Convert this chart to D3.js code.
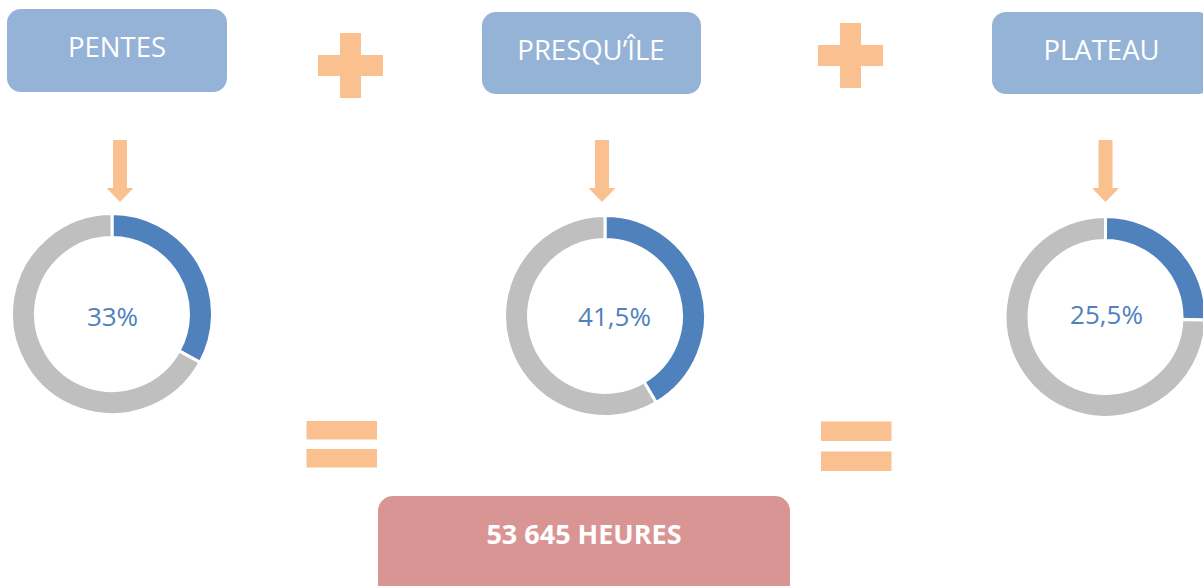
<!DOCTYPE html>
<html>
<head>
<meta charset="utf-8">
<script src="https://cdn.jsdelivr.net/npm/d3@7/dist/d3.min.js"></script>
<style>
  html, body { margin: 0; padding: 0; background: #ffffff; }
  svg { display: block; }
</style>
</head>
<body>
<svg id="chart" width="1203" height="586"></svg>
<script>
// ---- data ----
const regions = ["PENTES", "PRESQU\u2019ÎLE", "PLATEAU"];
const shares = [33, 41.5, 25.5];
const shareLabels = ["33%", "41,5%", "25,5%"];
const totalLabel = "53 645 HEURES";

// ---- layout (styling / positions only) ----
const W = 1203, H = 586;
const svg = d3.select("#chart");
const FONT = "'Open Sans', 'Noto Sans', sans-serif";
const C = {
  box: "#95b3d7", orange: "#fac090", blue: "#4f81bd",
  grey: "#bfbfbf", pink: "#d99594", label: "#4f81bd"
};

const boxes = [
  { x: 7, y: 9, w: 220, h: 83, tx: 117, ty: 57.3 },
  { x: 482, y: 12, w: 219, h: 82, tx: 591, ty: 60 },
  { x: 992, y: 12, w: 220, h: 82, tx: 1101.5, ty: 60 }
];
const donuts = [
  { cx: 112, cy: 314, lx: 112.5, ly: 326 },
  { cx: 605, cy: 316, lx: 614.5, ly: 326 },
  { cx: 1105.5, cy: 317, lx: 1106.5, ly: 324 }
];
const arrowsX = [120, 602, 1105.5];
const plusCenters = [[350.5, 65.5], [850.5, 55.5]];
const equalsPos = [
  { x: 306.5, y1: 421, y2: 449, w: 70.5, h: 18.5 },
  { x: 821, y1: 421.5, y2: 451.5, w: 70.5, h: 19.5 }
];

// header boxes
const g = svg.append("g");
regions.forEach((name, i) => {
  const b = boxes[i];
  g.append("rect").attr("x", b.x).attr("y", b.y).attr("width", b.w).attr("height", b.h)
    .attr("rx", 14).attr("ry", 14).attr("fill", C.box);
  g.append("text").attr("x", b.tx).attr("y", b.ty).attr("text-anchor", "middle")
    .attr("font-family", FONT).attr("font-size", 27.5).attr("fill", "#ffffff")
    .text(name);
});

// plus signs
plusCenters.forEach(([cx, cy]) => {
  const L = 65, T = 21;
  g.append("rect").attr("x", cx - T / 2).attr("y", cy - L / 2).attr("width", T).attr("height", L).attr("fill", C.orange);
  g.append("rect").attr("x", cx - L / 2).attr("y", cy - T / 2).attr("width", L).attr("height", T).attr("fill", C.orange);
});

// arrows
arrowsX.forEach(ax => {
  const top = 140, headBase = 188, tip = 202, sw = 14, hw = 27;
  const pts = [
    [ax - sw / 2, top], [ax + sw / 2, top], [ax + sw / 2, headBase],
    [ax + hw / 2, headBase], [ax, tip], [ax - hw / 2, headBase],
    [ax - sw / 2, headBase]
  ];
  g.append("path").attr("d", d3.line()(pts) + "Z").attr("fill", C.orange);
});

// donuts
const pie = d3.pie().sort(null).value(d => d);
const arc = d3.arc().innerRadius(76.5).outerRadius(100.5);
shares.forEach((s, i) => {
  const d = donuts[i];
  const dg = svg.append("g").attr("transform", `translate(${d.cx},${d.cy})`);
  dg.selectAll("path").data(pie([s, 100 - s])).join("path")
    .attr("d", arc)
    .attr("fill", (p, j) => j === 0 ? C.blue : C.grey)
    .attr("stroke", "#ffffff").attr("stroke-width", 3);
  svg.append("text").attr("x", d.lx).attr("y", d.ly).attr("text-anchor", "middle")
    .attr("font-family", FONT).attr("font-size", 26).attr("fill", C.label)
    .text(shareLabels[i]);
});

// equals signs
equalsPos.forEach(e => {
  [e.y1, e.y2].forEach(y => {
    g.append("rect").attr("x", e.x).attr("y", y).attr("width", e.w).attr("height", e.h).attr("fill", C.orange);
  });
});

// total box
svg.append("rect").attr("x", 378).attr("y", 496).attr("width", 412).attr("height", 110)
  .attr("rx", 15).attr("ry", 15).attr("fill", C.pink);
svg.append("text").attr("x", 584).attr("y", 544).attr("text-anchor", "middle")
  .attr("font-family", FONT).attr("font-weight", "bold").attr("font-size", 27).attr("fill", "#ffffff")
  .text(totalLabel);
</script>
</body>
</html>
